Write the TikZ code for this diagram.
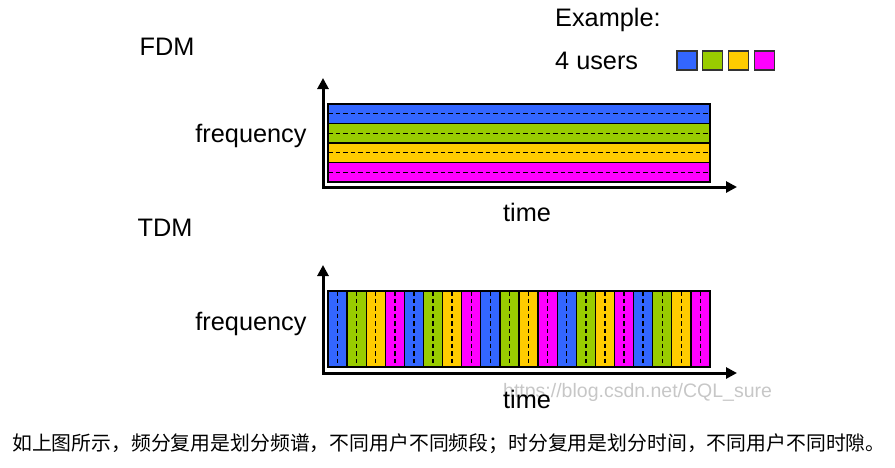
\documentclass[tikz,border=0pt]{standalone}
\usepackage{fontspec}
\setmainfont{Liberation Sans}
\newfontfamily\cjk{Noto Sans CJK SC}
\usetikzlibrary{arrows.meta}
\definecolor{ublue}{HTML}{3366FF}
\definecolor{ugreen}{HTML}{99CC00}
\definecolor{uyellow}{HTML}{FFCC00}
\definecolor{umag}{HTML}{FF00FF}
\begin{document}
\begin{tikzpicture}[x=1pt,y=-1pt,
  lbl/.style={font=\fontsize{25.3}{29}\selectfont, inner sep=0pt},
  band/.style={draw=black, line width=1.3pt},
  sep/.style={dash pattern=on 4.5pt off 3pt, line width=1.4pt},
  axis/.style={line width=3pt, {Triangle[length=11pt,width=11pt]}-{Triangle[length=11pt,width=11pt]}},
  swatch/.style={draw=black!80, line width=1.2pt}]
\useasboundingbox (0,0) rectangle (895,467);
% titles
\node[lbl] (fdm) at (167,47) {FDM};
\node[lbl] (tdm) at (165,228) {TDM};
\node[lbl, anchor=west] (ex) at (555,20) {Example:};
\node[lbl, anchor=west] (users) at (555,61) {4 users};
% swatches
\foreach \c [count=\i from 0] in {ublue,ugreen,uyellow,umag} {
  \filldraw[fill=\c, swatch] (677+25.7*\i,51) rectangle ++(20,19);
}
% FDM bands
\foreach \c [count=\i from 0] in {ublue,ugreen,uyellow,umag} {
  \pgfmathsetmacro\ya{104+19.5*\i}
  \filldraw[fill=\c, band] (328,\ya) rectangle (710,\ya+19.5);
  \draw[sep] (328,\ya+9.75) -- (710,\ya+9.75);
}
\coordinate (fy) at (323,78);
\coordinate (fo) at (323,187);
\coordinate (fx) at (737,187);
\draw[axis] (fy) -- (fo) -- (fx);
\node[lbl] (ffreq) at (251,136) {frequency};
\node[lbl] (ftime) at (527,212) {time};
% TDM strips
\foreach \c [count=\i from 0] in {ublue,ugreen,uyellow,umag,ublue,ugreen,uyellow,umag,ublue,ugreen,uyellow,umag,ublue,ugreen,uyellow,umag,ublue,ugreen,uyellow,umag} {
  \pgfmathsetmacro\xa{328+19.1*\i}
  \filldraw[fill=\c, band] (\xa,291) rectangle (\xa+19.1,367);
  \draw[sep] (\xa+9.55,291) -- (\xa+9.55,367);
}
\coordinate (ty) at (323,265);
\coordinate (to) at (323,373);
\coordinate (tx) at (737,373);
\draw[axis] (ty) -- (to) -- (tx);
\node[lbl] (tfreq) at (251,324) {frequency};
\node[font=\fontsize{19.5}{22}\selectfont, text=black!22, anchor=west, inner sep=0pt] (wm) at (503,392) {https://blog.csdn.net/CQL\_sure};
\node[lbl] (ttime) at (527,399) {time};
% caption
\node[font=\cjk\fontsize{19.85}{22}\selectfont, anchor=west, inner sep=0pt] (cap) at (12,444) {如上图所示，频分复用是划分频谱，不同用户不同频段；时分复用是划分时间，不同用户不同时隙。};
\end{tikzpicture}
\end{document}
